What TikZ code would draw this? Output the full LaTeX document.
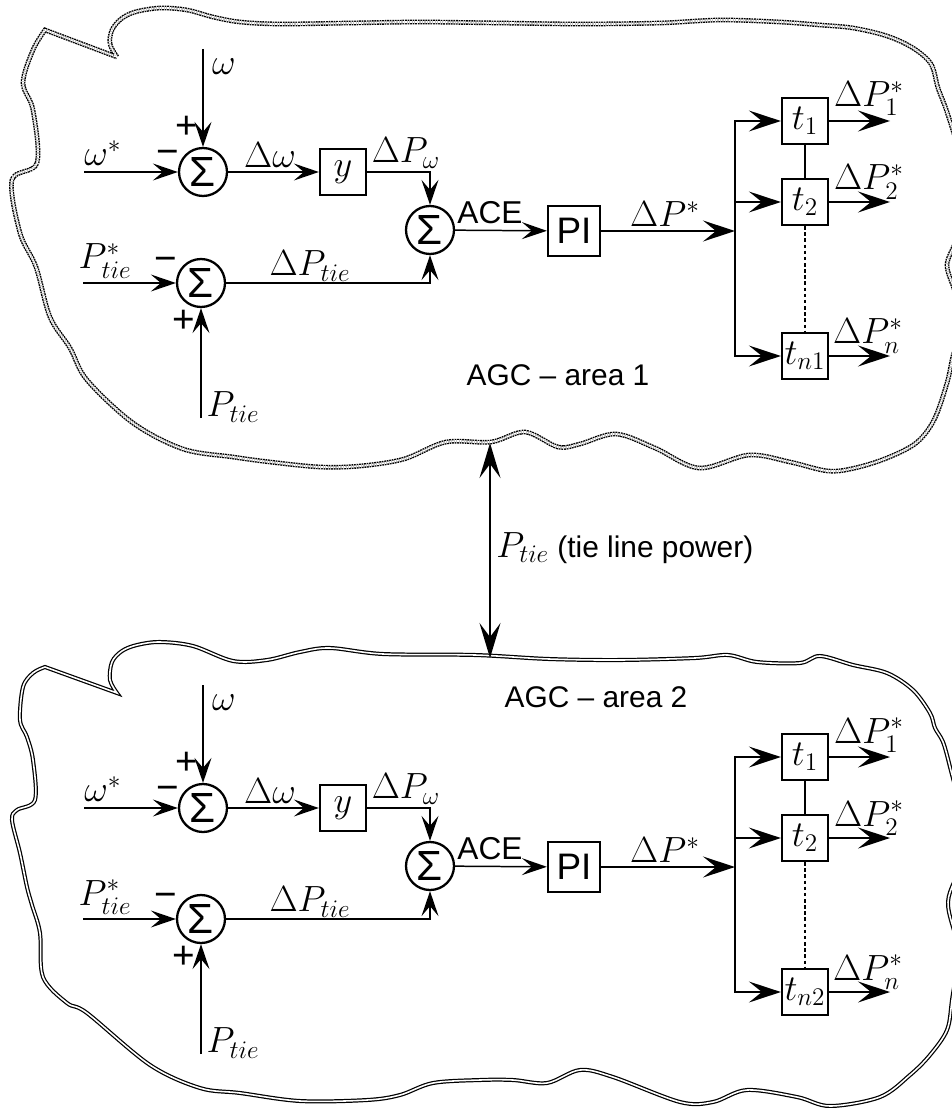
\documentclass[tikz,border=0pt]{standalone}
\usepackage{fontspec}
\setsansfont{Liberation Sans}
\usetikzlibrary{arrows.meta}

\tikzset{
  wire/.style={line width=0.85pt},
  arr/.style={wire, -{Stealth[length=5mm, width=3.4mm, inset=2mm]}},
  bigarr/.style={wire, -{Stealth[length=6.4mm, width=4.2mm, inset=2.6mm]}},
  tiearr/.style={wire, {Stealth[length=7mm, width=4.2mm, inset=2.8mm]}-{Stealth[length=7mm, width=4.2mm, inset=2.8mm]}},
  sumnode/.style={circle, draw, line width=1.3pt, minimum size=0.96cm, inner sep=0pt,
    font=\sffamily\fontsize{24}{24}\selectfont},
  blk/.style={draw, line width=1.3pt, minimum size=0.92cm, inner sep=0pt, font=\huge},
  lbl/.style={font=\huge, inner sep=0pt},
  sgn/.style={font=\sffamily\fontsize{22}{22}\selectfont, inner sep=0pt},
  txt/.style={font=\sffamily\fontsize{17}{18}\selectfont, inner sep=0pt},
  area one/.style={double, double distance=1.1pt, line width=0.8pt, dash pattern=on 1pt off 0.45pt},
  area two/.style={double, double distance=0.9pt, line width=0.7pt},
}

\begin{document}
\begin{tikzpicture}[x=0.02cm, y=-0.02cm]
  \useasboundingbox (0,0) rectangle (952,1108);

  % outline of area 1
  \draw[area one] plot[smooth, tension=0.55] coordinates {
    (117,57) (110,44) (112,30) (121,19) (135,12) (160,8) (187,10) (213,17)
    (240,22) (280,24) (350,23) (420,22) (500,23) (580,24) (660,23) (720,20)
    (780,22) (820,25) (853,28) (887,36) (913,48) (931,64) (938,88) (947,112)
    (958,150) (964,200) (956,240) (947,265) (955,292) (962,325) (953,356)
    (947,383) (934,420) (916,443) (887,458) (855,468) (828,471) (790,462)
    (749,455) (699,468) (655,448) (616,434) (580,444) (558,447) (525,432)
    (491,442) (446,442) (404,459) (360,466) (320,467) (270,462) (233,457)
    (183,449) (133,423) (87,380) (70,348) (50,317) (36,267) (20,233) (12,180)
    (37,163) (33,110) (23,83) (33,50) (45,30)} -- cycle;

  % outline of area 2
  \draw[area two] plot[smooth, tension=0.55] coordinates {
    (117,693) (110,680) (112,662) (122,651) (137,645) (160,642) (193,646)
    (233,661) (267,660) (300,652) (330,648) (383,654) (475,655) (549,659)
    (620,660) (695,658) (728,655) (757,662) (800,663) (820,656) (853,665)
    (887,673) (913,690) (930,713) (935,728) (943,742) (950,767) (960,810)
    (962,860) (948,902) (958,950) (952,1000) (947,1030) (930,1055) (910,1075)
    (880,1097) (830,1106) (797,1097) (747,1090) (713,1102) (680,1102)
    (613,1077) (580,1070) (547,1083) (513,1080) (480,1080) (433,1083)
    (400,1095) (367,1100) (300,1101) (240,1093) (200,1088) (150,1065)
    (87,1013) (67,1003) (43,977) (40,933) (32,905) (27,887) (20,853) (12,820)
    (17,810) (35,800) (33,760) (27,737) (20,720) (23,687) (33,673) (45,667)} -- cycle;

  % same controller in both areas
  \foreach \a/\dy/\lastt in {1/0/n1, 2/636/n2} {
  \begin{scope}[shift={(0,\dy)}]
    % frequency error
    \node[sumnode] (sw\a) at (203,172) {Σ};
    \coordinate (win\a) at (203,49);
    \coordinate (wref\a) at (84,172);
    \draw[arr] (win\a) -- (sw\a);
    \draw[arr] (wref\a) -- (sw\a);
    \node[lbl] (lw\a) at (224,67) {$\omega$};
    \node[lbl] (lwr\a) at (103,153) {$\omega^*$};
    \node[sgn] (pw\a) at (187,127) {+};
    \node[sgn] (mw\a) at (168,157) {−};
    \node[blk] (yb\a) at (343,172) {$y$};
    \draw[arr] (sw\a) -- (yb\a);
    \node[lbl] (ldw\a) at (270,155) {$\Delta\omega$};

    % tie line error
    \node[sumnode] (sp\a) at (201,283) {Σ};
    \coordinate (pref\a) at (83,283);
    \coordinate (pin\a) at (201,418);
    \draw[arr] (pref\a) -- (sp\a);
    \draw[arr] (pin\a) -- (sp\a);
    \node[lbl] (lpr\a) at (105,261) {$P_{tie}^*$};
    \node[lbl] (lpi\a) at (233,407) {$P_{tie}$};
    \node[sgn] (mp\a) at (166,264) {−};
    \node[sgn] (pp\a) at (184,321) {+};

    % area control error
    \node[sumnode] (sa\a) at (430,230) {Σ};
    \draw[arr] (yb\a) -| (sa\a);
    \draw[arr] (sp\a) -| (sa\a);
    \node[lbl] (ldpw\a) at (406,153) {$\Delta P_\omega$};
    \node[lbl] (ldpt\a) at (310,266) {$\Delta P_{tie}$};
    \node[blk, minimum width=1.04cm, minimum height=1cm,
      font=\sffamily\fontsize{21}{21}\selectfont] (pi\a) at (574,231) {PI};
    \draw[arr] (sa\a) -- (pi\a);
    \node[txt, font=\sffamily\fontsize{18}{18}\selectfont] (lace\a) at (490,213) {ACE};

    % split to the units
    \coordinate (jc\a) at (735,231);
    \draw[bigarr] (pi\a) -- (jc\a);
    \node[lbl] (ldp\a) at (665,214) {$\Delta P^*$};
    \node[blk] (ta\a) at (805,121) {$t_1$};
    \node[blk] (tb\a) at (805,202) {$t_2$};
    \node[blk] (tc\a) at (805,356) {$t_{\lastt}$};
    \draw[bigarr] (jc\a) |- (ta\a);
    \draw[bigarr] (jc\a) |- (tb\a);
    \draw[bigarr] (jc\a) |- (tc\a);
    \draw[wire] (ta\a) -- (tb\a);
    \draw[wire, dash pattern=on 2pt off 1.5pt] (tb\a) -- (tc\a);
    \coordinate (oa\a) at (890,121);
    \coordinate (ob\a) at (890,202);
    \coordinate (oc\a) at (890,356);
    \draw[bigarr] (ta\a) -- (oa\a);
    \draw[bigarr] (tb\a) -- (ob\a);
    \draw[bigarr] (tc\a) -- (oc\a);
    \node[lbl] (lpa\a) at (869,99) {$\Delta P_1^*$};
    \node[lbl] (lpb\a) at (869,182) {$\Delta P_2^*$};
    \node[lbl] (lpc\a) at (868,336) {$\Delta P_n^*$};
  \end{scope}
  }

  \node[txt] (agc1) at (558,375) {AGC – area 1};
  \node[txt] (agc2) at (596,697) {AGC – area 2};

  % tie line
  \coordinate (tieA) at (490,443);
  \coordinate (tieB) at (490,658);
  \draw[tiearr] (tieA) -- (tieB);
  \node[txt, anchor=west] (tiel) at (496,548) {{\huge$P_{tie}$} (tie line power)};
\end{tikzpicture}
\end{document}
